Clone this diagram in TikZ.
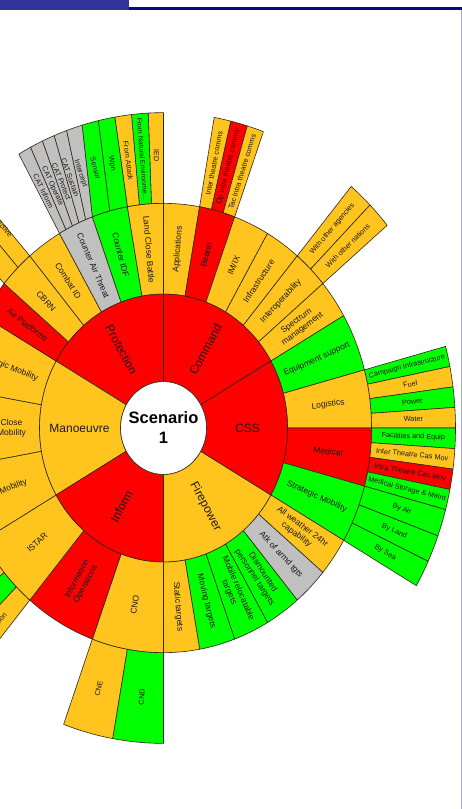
\documentclass[tikz,border=0pt]{standalone}
\usepackage{fontspec}
\setmainfont{Liberation Sans}

\definecolor{amber}{RGB}{255,197,30}
\definecolor{sred}{RGB}{255,0,0}
\definecolor{sgreen}{RGB}{0,255,0}
\definecolor{sgrey}{RGB}{192,192,192}
\definecolor{edgecol}{RGB}{45,40,20}
\definecolor{labtext}{RGB}{25,25,25}
\definecolor{hdrblue}{RGB}{51,51,153}
\definecolor{hdrnavy}{RGB}{10,10,120}
\definecolor{framelav}{RGB}{170,170,205}

% ring radii (pt); the chart is drawn with a vertical stretch of 1.08
\newcommand{\radO}{43}
\newcommand{\radA}{124}
\newcommand{\radB}{208}
\newcommand{\radC}{292}

% annular sector: start angle, end angle, inner radius, outer radius, fill
\newcommand{\ringseg}[5]{%
  \filldraw[segline, fill=#5] (#1:#3) arc[start angle=#1, end angle=#2, radius=#3]
    -- (#2:#4) arc[start angle=#2, end angle=#1, radius=#4] -- cycle;}

% outer-ring leaf whose outer edge is fanned: inner a1, a2; outer b1, b2; fill
\newcommand{\fanseg}[5]{%
  \filldraw[segline, fill=#5] (#1:\radB) -- (#3:\radC) arc[start angle=#3, end angle=#4, radius=\radC]
    -- (#2:\radB) arc[start angle=#2, end angle=#1, radius=\radB] -- cycle;}

% radial label: node name, angle, radius, style, text
\newcommand{\radlabel}[5]{%
  \pgfmathsetmacro{\labrot}{atan2(1.08*sin(#2),cos(#2))}%
  \pgfmathsetmacro{\labrot}{(\labrot>90) ? (\labrot-180) : ((\labrot<-90) ? (\labrot+180) : \labrot)}%
  \node[#4, rotate=\labrot] (#1) at (#2:#3) {#5};}

\begin{document}
\begin{tikzpicture}[x=1pt, y=1pt,
  segline/.style={draw=edgecol, line width=0.6pt, line join=round},
  lab1/.style={font=\fontsize{12}{13}\selectfont, text=labtext, inner sep=0pt},
  lab2/.style={font=\fontsize{8.5}{9.8}\selectfont, text=labtext, align=center, inner sep=0pt},
  lab3/.style={font=\fontsize{7.3}{8.3}\selectfont, text=labtext, align=center, inner sep=0pt},
  hublab/.style={font=\fontsize{16.5}{20}\selectfont\bfseries, align=center, inner sep=0pt}]

\useasboundingbox (0,0) rectangle (462,-809);
\clip (0,0) rectangle (462,-809);
\fill[white] (0,0) rectangle (462,-809);

% header bar and frame
\fill[hdrblue] (0,0) rectangle (129,-10);
\fill[hdrnavy] (129,-7) rectangle (462,-9.5);
\draw[framelav, line width=1pt] (461,-9.5) -- (461,-809);

\begin{scope}[shift={(163.5,-428)}, yscale=1.08]

% ---------- outer ring: leaves ----------
% Protection: Land Close Battle, Counter IDF, Counter Air Threat
\fanseg{90}{93.333}{90}{93}{amber}
\fanseg{93.333}{96.667}{93}{96.3}{sgreen}
\fanseg{96.667}{100}{96.3}{99.6}{amber}
\fanseg{100}{105}{99.6}{102.9}{sgreen}
\fanseg{105}{110}{102.9}{106.2}{sgreen}
\fanseg{110}{112}{106.2}{109.4}{sgrey}
\fanseg{112}{114}{109.4}{112}{sgrey}
\fanseg{114}{116}{112}{114.5}{sgrey}
\fanseg{116}{118}{114.5}{117.1}{sgrey}
\fanseg{118}{120}{117.1}{119.7}{sgrey}
% CBRN
\fanseg{130}{134.4}{130.5}{133.6}{amber}
\fanseg{134.4}{140}{133.6}{138}{amber}
% Bearer
\ringseg{76.667}{80}{\radB}{\radC}{amber}
\ringseg{73.333}{76.667}{\radB}{\radC}{sred}
\ringseg{70}{73.333}{\radB}{\radC}{amber}
% Interoperability
\ringseg{45}{50}{\radB}{\radC}{amber}
\ringseg{40}{45}{\radB}{\radC}{amber}
% Logistics
\ringseg{11.25}{15}{\radB}{\radC}{sgreen}
\ringseg{7.5}{11.25}{\radB}{\radC}{amber}
\ringseg{3.75}{7.5}{\radB}{\radC}{sgreen}
\ringseg{0}{3.75}{\radB}{\radC}{amber}
% Medical
\ringseg{-3.75}{0}{\radB}{\radC}{sgreen}
\ringseg{-7.5}{-3.75}{\radB}{\radC}{amber}
\ringseg{-11.25}{-7.5}{\radB}{\radC}{sred}
\ringseg{-15}{-11.25}{\radB}{\radC}{sgreen}
% Strategic Mobility
\ringseg{-20}{-15}{\radB}{\radC}{sgreen}
\ringseg{-25}{-20}{\radB}{\radC}{sgreen}
\ringseg{-30}{-25}{\radB}{\radC}{sgreen}
% CNO
\ringseg{250}{260}{\radB}{\radC}{amber}
\ringseg{260}{270}{\radB}{\radC}{sgreen}
% ISTAR
\ringseg{215}{220}{\radB}{\radC}{amber}
\ringseg{220}{225}{\radB}{\radC}{sgreen}
\ringseg{225}{230}{\radB}{\radC}{amber}

% ---------- middle ring ----------
\ringseg{80}{90}{\radA}{\radB}{amber}
\ringseg{70}{80}{\radA}{\radB}{sred}
\ringseg{60}{70}{\radA}{\radB}{amber}
\ringseg{50}{60}{\radA}{\radB}{amber}
\ringseg{40}{50}{\radA}{\radB}{amber}
\ringseg{30}{40}{\radA}{\radB}{amber}
\ringseg{15}{30}{\radA}{\radB}{sgreen}
\ringseg{0}{15}{\radA}{\radB}{amber}
\ringseg{-15}{0}{\radA}{\radB}{sred}
\ringseg{-30}{-15}{\radA}{\radB}{sgreen}
\ringseg{-40}{-30}{\radA}{\radB}{amber}
\ringseg{-50}{-40}{\radA}{\radB}{sgrey}
\ringseg{-60}{-50}{\radA}{\radB}{sgreen}
\ringseg{-70}{-60}{\radA}{\radB}{sgreen}
\ringseg{-80}{-70}{\radA}{\radB}{sgreen}
\ringseg{-90}{-80}{\radA}{\radB}{amber}
\ringseg{250}{270}{\radA}{\radB}{amber}
\ringseg{230}{250}{\radA}{\radB}{sred}
\ringseg{210}{230}{\radA}{\radB}{amber}
\ringseg{190}{210}{\radA}{\radB}{amber}
\ringseg{170}{190}{\radA}{\radB}{amber}
\ringseg{150}{170}{\radA}{\radB}{amber}
\ringseg{140}{150}{\radA}{\radB}{sred}
\ringseg{130}{140}{\radA}{\radB}{amber}
\ringseg{120}{130}{\radA}{\radB}{amber}
\ringseg{110}{120}{\radA}{\radB}{sgrey}
\ringseg{100}{110}{\radA}{\radB}{sgreen}
\ringseg{90}{100}{\radA}{\radB}{amber}

% ---------- inner ring ----------
\ringseg{30}{90}{\radO}{\radA}{sred}
\ringseg{90}{150}{\radO}{\radA}{sred}
\ringseg{150}{210}{\radO}{\radA}{amber}
\ringseg{210}{270}{\radO}{\radA}{sred}
\ringseg{270}{330}{\radO}{\radA}{amber}
\ringseg{-30}{30}{\radO}{\radA}{sred}

% hub
\filldraw[segline, fill=white] (0,0) circle[radius=\radO];
\node[hublab] (hub) at (0,0) {Scenario\\1};

% ---------- inner ring labels ----------
\radlabel{l-command}{60}{84}{lab1}{Command}
\radlabel{l-protection}{120}{84}{lab1}{Protection}
\radlabel{l-manoeuvre}{180}{84}{lab1}{Manoeuvre}
\radlabel{l-inform}{240}{84}{lab1}{Inform}
\radlabel{l-firepower}{300}{84}{lab1}{Firepower}
\radlabel{l-css}{0}{84}{lab1}{CSS}

% ---------- middle ring labels ----------
\radlabel{m-app}{85}{166}{lab2}{Applications}
\radlabel{m-bearer}{75}{166}{lab2}{Bearer}
\radlabel{m-imix}{65}{166}{lab2}{IM/IX}
\radlabel{m-infra}{55}{166}{lab2}{Infrastructure}
\radlabel{m-interop}{45}{166}{lab2}{Interoperability}
\radlabel{m-spectrum}{35}{166}{lab2}{Spectrum\\management}
\radlabel{m-equip}{22.5}{166}{lab2}{Equipment support}
\radlabel{m-log}{7.5}{166}{lab2}{Logistics}
\radlabel{m-med}{-7.5}{166}{lab2}{Medical}
\radlabel{m-stratmob}{-22.5}{166}{lab2}{Strategic Mobility}
\radlabel{m-allwx}{-35}{166}{lab2}{All weather 24hr\\capability}
\radlabel{m-atk}{-45}{166}{lab2}{Atk of armd tgts}
\radlabel{m-dismtd}{-55}{166}{lab2}{Dismounted\\personnel targets}
\radlabel{m-mobile}{-65}{166}{lab2}{Mobile relocatable\\targets}
\radlabel{m-moving}{-75}{166}{lab2}{Moving targets}
\radlabel{m-static}{-85}{166}{lab2}{Static targets}
\radlabel{m-cno}{260}{166}{lab2}{CNO}
\radlabel{m-infoops}{240}{164}{lab2}{Information\\Operations}
\radlabel{m-istar}{220}{165}{lab2}{ISTAR}
\radlabel{m-airmob}{200}{166}{lab2}{Air Mobility}
\radlabel{m-closemob}{180}{152}{lab2}{Close\\Mobility}
\radlabel{m-tacmob}{160}{166}{lab2}{Strategic Mobility}
\radlabel{m-airplat}{145}{166}{lab2}{Air Platforms}
\radlabel{m-cbrn}{135}{166}{lab2}{CBRN}
\radlabel{m-combatid}{125}{166}{lab2}{Combat ID}
\radlabel{m-cat}{115}{166}{lab2}{Counter Air Threat}
\radlabel{m-cidf}{105}{166}{lab2}{Counter IDF}
\radlabel{m-lcb}{95}{166}{lab2}{Land Close Battle}

% ---------- outer ring labels ----------
\radlabel{o-ied}{91.6}{252}{lab3}{IED}
\radlabel{o-natenv}{94.8}{250}{lab3, font=\fontsize{7}{8}\selectfont}{From Natural Environme...}
\radlabel{o-attack}{98.1}{250}{lab3}{From Attack}
\radlabel{o-wpn}{101.9}{250}{lab3}{Wpn}
\radlabel{o-sensor}{105.8}{250}{lab3}{Sensor}
\radlabel{o-intercept}{109.4}{250}{lab3}{Intercept}
\radlabel{o-catsus}{111.9}{250}{lab3}{CAT Sustain}
\radlabel{o-catpro}{114.1}{250}{lab3}{CAT Protect}
\radlabel{o-catop}{116.4}{250}{lab3}{CAT Operate}
\radlabel{o-catinf}{118.7}{250}{lab3}{CAT Inform}
\radlabel{o-cbrn}{131.6}{250}{lab3}{Protective\\Suits}
\radlabel{o-intercomms}{78.33}{250}{lab3}{Inter theatre comms}
\radlabel{o-opcomms}{75}{250}{lab3}{Op Intra theatre comms}
\radlabel{o-taccomms}{71.67}{250}{lab3}{Tac Intra theatre comms}
\radlabel{o-agencies}{47.5}{250}{lab3}{With other agencies}
\radlabel{o-nations}{42.5}{250}{lab3}{With other nations}
\radlabel{o-campaign}{13.125}{250}{lab3}{Campaign Infrastructure}
\radlabel{o-fuel}{9.375}{250}{lab3}{Fuel}
\radlabel{o-power}{5.625}{250}{lab3}{Power}
\radlabel{o-water}{1.875}{250}{lab3}{Water}
\radlabel{o-facil}{-1.875}{250}{lab3}{Facilities and Equip}
\radlabel{o-inter}{-5.625}{250}{lab3}{Inter Theatre Cas Mov}
\radlabel{o-intra}{-9.375}{250}{lab3}{Intra Theatre Cas Mov}
\radlabel{o-medstore}{-13.125}{250}{lab3}{Medical Storage \& Maint}
\radlabel{o-air}{-17.5}{250}{lab3}{By Air}
\radlabel{o-land}{-22.5}{250}{lab3}{By Land}
\radlabel{o-sea}{-27.5}{250}{lab3}{By Sea}
\radlabel{o-cne}{255}{250}{lab3}{CNE}
\radlabel{o-cnd}{265}{250}{lab3}{CND}
\radlabel{o-tgtacq}{227.5}{261}{lab3}{Target Acquisition}

\end{scope}
\end{tikzpicture}
\end{document}
